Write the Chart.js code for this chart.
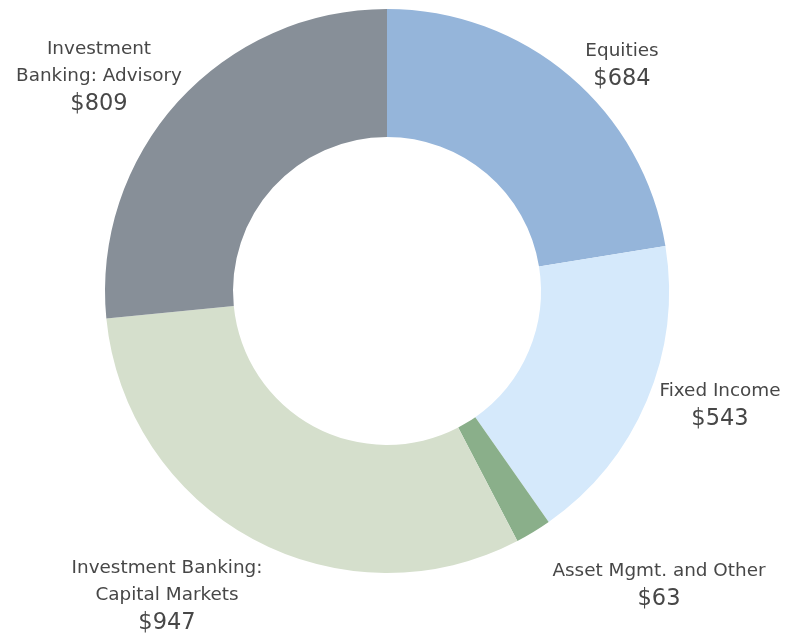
<!DOCTYPE html>
<html>
<head>
<meta charset="utf-8">
<script src="https://cdn.jsdelivr.net/npm/chart.js@4.4.1/dist/chart.umd.min.js"></script>
<style>
html,body{margin:0;padding:0;background:#fff;}
#wrap{width:788px;height:634px;position:relative;}
</style>
</head>
<body>
<div id="wrap"><canvas id="c" width="788" height="634"></canvas></div>
<script>
const categories = ["Equities", "Fixed Income", "Asset Mgmt. and Other", "Investment Banking: Capital Markets", "Investment Banking: Advisory"];
const labelLines = [["Equities"], ["Fixed Income"], ["Asset Mgmt. and Other"], ["Investment Banking:", "Capital Markets"], ["Investment", "Banking: Advisory"]];
const values = [684, 543, 63, 947, 809];
const colors = ["#95b5da", "#d5e9fb", "#8aaf8a", "#d5dfcc", "#878f98"];

// label anchor (center x, first line middle y)
const labelPos = [[622, 51], [720, 391], [659, 571], [167, 568], [99, 49]];

const labelPlugin = {
  id: 'sliceLabels',
  afterDraw(chart) {
    const ctx = chart.ctx;
    ctx.save();
    ctx.fillStyle = '#474747';
    ctx.textAlign = 'center';
    ctx.textBaseline = 'middle';
    labelLines.forEach((lines, i) => {
      const [x, y] = labelPos[i];
      ctx.font = '18.4px "DejaVu Sans", sans-serif';
      lines.forEach((ln, j) => ctx.fillText(ln, x, y + j * 27));
      ctx.font = '22.5px "DejaVu Sans", sans-serif';
      ctx.fillText('$' + values[i], x, y + lines.length * 27 + 1);
    });
    ctx.restore();
  }
};

new Chart(document.getElementById('c'), {
  type: 'doughnut',
  data: {
    labels: categories,
    datasets: [{
      data: values,
      backgroundColor: colors,
      borderWidth: 0,
      hoverOffset: 0
    }]
  },
  options: {
    responsive: false,
    animation: false,
    cutout: '54.6%',
    layout: { padding: { left: 105, right: 119, top: 9, bottom: 61 } },
    plugins: { legend: { display: false }, tooltip: { enabled: false } }
  },
  plugins: [labelPlugin]
});
</script>
</body>
</html>
